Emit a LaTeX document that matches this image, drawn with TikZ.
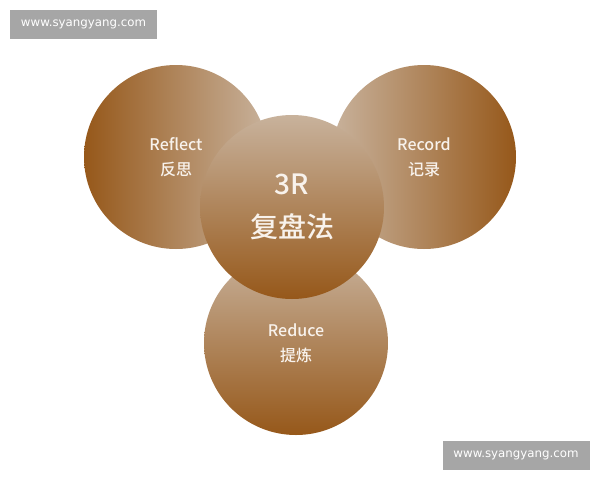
\documentclass[tikz,border=0pt]{standalone}
\usepackage{fontspec}
\setmainfont{Noto Sans CJK SC}
\IfFontExistsTF{Noto Sans CJK SC Medium}
  {\newfontfamily\ballfont{Noto Sans CJK SC Medium}}
  {\newfontfamily\ballfont{Noto Sans CJK SC}}
\newfontfamily\markfont{DejaVu Sans}
\begin{document}
\begin{tikzpicture}[x=1pt,y=-1pt,
  ball/.style={circle,minimum size=184pt,inner sep=0pt,draw=none,text=txt,align=center,
    font=\ballfont\fontsize{16}{25}\selectfont},
  mark box/.style={fill=wmgray,text=white,minimum width=147pt,minimum height=29pt,inner sep=0pt,
    font=\markfont\fontsize{11.8}{14}\selectfont}]
\definecolor{dark}{HTML}{96581A}
\definecolor{light}{HTML}{C8B29C}
\definecolor{txt}{HTML}{F8F2EC}
\definecolor{wmgray}{HTML}{A6A6A6}
\useasboundingbox[fill=white] (0,0) rectangle (600,480);
\node[mark box] (wm1) at (83.5,24.5) {www.syangyang.com};
\node[mark box] (wm2) at (516,455) {www.syangyang.com};
\node[ball,left color=dark,right color=light] (reflect) at (176,157) {Reflect\\反思};
\node[ball,left color=light,right color=dark] (record) at (424,157) {Record\\记录};
\node[ball,top color=light,bottom color=dark] (reduce) at (296,343) {Reduce\\提炼};
\node[ball,top color=light,bottom color=dark,font=\ballfont\fontsize{28}{43}\selectfont] (core) at (292,207) {3R\\复盘法};
\end{tikzpicture}
\end{document}
